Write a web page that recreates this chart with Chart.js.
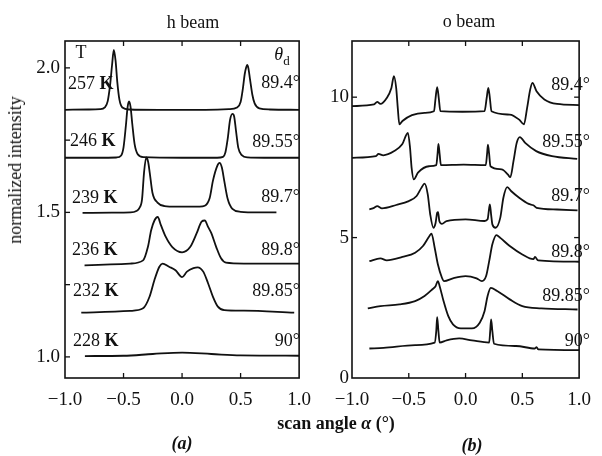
<!DOCTYPE html>
<html>
<head>
<meta charset="utf-8">
<script src="https://cdn.jsdelivr.net/npm/chart.js@4.4.0/dist/chart.umd.min.js"></script>
<style>
  body { margin: 0; background: #fff; }
  #wrap { position: relative; width: 602px; height: 456px; font-family: 'Liberation Serif', serif; color: #111; }
  canvas { position: absolute; top: 0; }
  .t { position: absolute; font-size: 18px; line-height: 1; white-space: nowrap; }
  .c { transform: translate(-50%, -50%); }
  .l { transform: translate(0, -50%); }
  .r { transform: translate(-100%, -50%); }
</style>
</head>
<body>
<div id="wrap">
  <canvas id="chartA" width="322" height="456" style="left:0"></canvas>
  <canvas id="chartB" width="280" height="456" style="left:322px"></canvas>
</div>
<script>
// ---- h beam (panel a): scan angle vs normalized intensity ----
const hAlpha257 = [-1.0,-0.8,-0.7,-0.66,-0.635,-0.615,-0.598,-0.583,-0.568,-0.553,-0.535,-0.51,-0.45,-0.2,0.0,0.2,0.4,0.47,0.5,0.52,0.535,0.548,0.556,0.566,0.58,0.6,0.62,0.66,0.75,1.0];
const hInt257   = [1.855,1.856,1.857,1.863,1.885,1.94,2.01,2.062,2.025,1.95,1.89,1.863,1.856,1.855,1.855,1.855,1.857,1.863,1.882,1.93,1.978,2.002,2.01,2.0,1.962,1.908,1.877,1.86,1.856,1.855];
const hAlpha246 = [-1.0,-0.7,-0.56,-0.52,-0.5,-0.48,-0.465,-0.453,-0.44,-0.425,-0.405,-0.38,-0.33,0,0.3,0.35,0.37,0.39,0.41,0.43,0.445,0.46,0.48,0.51,0.56,0.7,1.0];
const hInt246   = [1.689,1.689,1.69,1.697,1.725,1.8,1.865,1.884,1.865,1.805,1.735,1.702,1.691,1.689,1.689,1.692,1.707,1.755,1.82,1.841,1.832,1.785,1.724,1.698,1.69,1.689,1.689];
const hAlpha239 = [-0.85,-0.6,-0.44,-0.39,-0.365,-0.342,-0.325,-0.306,-0.29,-0.276,-0.253,-0.21,-0.15,-0.05,0.05,0.15,0.194,0.236,0.264,0.3,0.32,0.34,0.36,0.39,0.43,0.5,0.65,0.806];
const hInt239   = [1.498,1.499,1.5,1.505,1.515,1.545,1.637,1.69,1.675,1.637,1.568,1.534,1.522,1.52,1.52,1.52,1.523,1.55,1.61,1.66,1.671,1.655,1.61,1.546,1.512,1.502,1.5,1.5];
const hAlpha236 = [-0.833,-0.444,-0.333,-0.292,-0.264,-0.236,-0.208,-0.18,-0.139,-0.083,0,0.069,0.125,0.167,0.194,0.222,0.25,0.292,0.333,0.375,0.528,1.0];
const hInt236   = [1.317,1.323,1.334,1.38,1.438,1.472,1.484,1.455,1.415,1.38,1.362,1.38,1.428,1.468,1.472,1.45,1.428,1.38,1.341,1.326,1.323,1.323];
const hAlpha232 = [-0.861,-0.444,-0.333,-0.278,-0.236,-0.194,-0.167,-0.111,-0.056,0,0.042,0.097,0.133,0.181,0.222,0.264,0.306,0.361,0.528,0.958];
const hInt232   = [1.153,1.159,1.168,1.208,1.266,1.312,1.323,1.312,1.3,1.276,1.295,1.307,1.31,1.295,1.255,1.208,1.174,1.162,1.16,1.153];
const hAlpha228 = [-0.83,-0.5,-0.25,0,0.25,0.5,1.0];
const hInt228   = [1.003,1.004,1.01,1.015,1.01,1.005,1.004];

// ---- o beam (panel b) ----
const oAlpha894  = [-1,-0.806,-0.778,-0.75,-0.694,-0.653,-0.631,-0.611,-0.597,-0.583,-0.556,-0.472,-0.361,-0.278,-0.264,-0.25,-0.236,-0.222,-0.028,0.167,0.186,0.2,0.214,0.228,0.389,0.472,0.514,0.542,0.569,0.589,0.625,0.694,0.806,1.0];
const oInt894    = [9.68,9.74,9.83,9.76,9.97,10.33,10.75,10.33,9.62,9.03,9.15,9.36,9.44,9.5,9.97,10.36,9.97,9.5,9.48,9.5,9.97,10.33,9.97,9.5,9.38,9.2,9.03,9.62,10.27,10.51,10.21,9.92,9.76,9.72];
const oAlpha8955 = [-1,-0.789,-0.767,-0.725,-0.628,-0.558,-0.508,-0.489,-0.475,-0.456,-0.419,-0.322,-0.258,-0.247,-0.239,-0.228,-0.217,-0.017,0.178,0.189,0.197,0.208,0.219,0.317,0.372,0.394,0.422,0.45,0.478,0.525,0.622,0.761,0.983];
const oInt8955   = [7.84,7.9,7.98,7.93,8.08,8.32,8.73,8.2,7.48,7.07,7.31,7.54,7.58,7.96,8.34,7.96,7.58,7.6,7.58,7.96,8.31,7.96,7.54,7.43,7.25,7.15,7.72,8.37,8.58,8.37,8.08,7.9,7.8];
const oAlpha897  = [-0.847,-0.806,-0.778,-0.736,-0.611,-0.5,-0.431,-0.389,-0.361,-0.333,-0.311,-0.283,-0.264,-0.25,-0.242,-0.231,-0.208,-0.167,0,0.167,0.194,0.208,0.214,0.225,0.236,0.264,0.306,0.333,0.367,0.403,0.472,0.556,0.597,0.625,0.806,0.986];
const oInt897    = [6.0,6.06,6.12,6.04,6.16,6.3,6.48,6.77,6.92,6.54,5.82,5.35,5.52,5.88,5.91,5.59,5.49,5.59,5.65,5.59,5.65,6.06,6.18,5.82,5.47,5.35,5.71,6.42,6.8,6.65,6.42,6.2,6.15,6.06,6.0,5.97];
const oAlpha898  = [-0.847,-0.75,-0.694,-0.556,-0.444,-0.375,-0.319,-0.3,-0.272,-0.244,-0.208,-0.189,-0.111,0,0.097,0.144,0.181,0.208,0.236,0.272,0.306,0.389,0.5,0.597,0.611,0.639,1.0];
const oInt898    = [4.16,4.26,4.19,4.31,4.46,4.7,5.05,5.14,4.64,4.05,3.57,3.45,3.55,3.63,3.55,3.45,3.63,4.16,4.76,5.09,4.99,4.7,4.4,4.23,4.31,4.19,4.14];
const oAlpha8985 = [-0.861,-0.75,-0.583,-0.444,-0.361,-0.292,-0.264,-0.244,-0.228,-0.194,-0.153,-0.111,-0.042,0.056,0.125,0.167,0.194,0.222,0.278,0.389,0.5,0.667,0.986];
const oInt8985   = [2.48,2.56,2.62,2.74,2.92,3.16,3.27,3.45,3.27,2.74,2.21,1.91,1.77,1.77,1.97,2.38,2.92,3.21,3.1,2.8,2.56,2.48,2.44];
const oAlpha90   = [-0.847,-0.722,-0.444,-0.272,-0.258,-0.25,-0.239,-0.228,-0.167,-0.056,0.056,0.208,0.217,0.225,0.236,0.25,0.444,0.611,0.625,0.639,1.0];
const oInt90     = [1.05,1.07,1.17,1.26,1.67,2.17,1.67,1.26,1.34,1.41,1.34,1.26,1.67,2.09,1.67,1.22,1.14,1.05,1.1,1.02,0.99];

// labels
const temps  = ['257', '246', '239', '236', '232', '228'];
const angles = ['89.4°', '89.55°', '89.7°', '89.8°', '89.85°', '90°'];

const pts = (a, v) => a.map((x, i) => ({x: x, y: v[i]}));
const fmtX = v => (v < 0 ? '\u2212' : '') + Math.abs(v).toFixed(1);

Chart.defaults.font.family = "'Liberation Serif', serif";
Chart.defaults.font.size = 19;
Chart.defaults.color = '#111';

// box round the plot area plus inward tick marks
const frame = {
  id: 'frame',
  afterDraw(chart, args, opts) {
    const {ctx, chartArea: a, scales} = chart;
    const len = 5;
    const line = (x1, y1, x2, y2) => { ctx.beginPath(); ctx.moveTo(x1, y1); ctx.lineTo(x2, y2); ctx.stroke(); };
    ctx.save();
    ctx.strokeStyle = '#111';
    ctx.lineWidth = 1.6;
    ctx.strokeRect(a.left, a.top, a.right - a.left, a.bottom - a.top);
    ctx.lineWidth = 1.3;
    scales.x.ticks.forEach(t => {
      const px = scales.x.getPixelForValue(t.value);
      if (px <= a.left + 1 || px >= a.right - 1) return;
      line(px, a.bottom, px, a.bottom - len);
      line(px, a.top, px, a.top + len);
    });
    scales.y.ticks.forEach(t => {
      const py = scales.y.getPixelForValue(t.value);
      if (py <= a.top + 1 || py >= a.bottom - 1) return;
      line(a.left, py, a.left + len, py);
      if (opts.rightTicks) line(a.right, py, a.right - len, py);
    });
    ctx.restore();
  }
};

function lineSet(a, v) {
  return {
    data: pts(a, v),
    borderColor: '#111',
    borderWidth: 1.8,
    pointRadius: 0,
    fill: false,
    cubicInterpolationMode: 'monotone'
  };
}

function xScale() {
  return {
    type: 'linear', min: -1, max: 1,
    ticks: {stepSize: 0.5, padding: 11, maxRotation: 0, autoSkip: false, callback: fmtX},
    grid: {display: false, drawTicks: false},
    border: {display: false},
    afterFit: s => { s.height = 78; }
  };
}

new Chart(document.getElementById('chartA'), {
  type: 'line',
  data: {
    datasets: [
      lineSet(hAlpha257, hInt257), lineSet(hAlpha246, hInt246), lineSet(hAlpha239, hInt239),
      lineSet(hAlpha236, hInt236), lineSet(hAlpha232, hInt232), lineSet(hAlpha228, hInt228)
    ]
  },
  options: {
    responsive: false,
    animation: false,
    layout: {padding: {top: 41, right: 18, left: 0, bottom: 0}},
    plugins: {legend: {display: false}, tooltip: {enabled: false}, frame: {rightTicks: false}},
    scales: {
      x: xScale(),
      y: {
        type: 'linear', min: 0.927, max: 2.093,
        ticks: {stepSize: 0.25, includeBounds: false, padding: 5,
                callback: v => Math.abs(v * 2 - Math.round(v * 2)) < 1e-6 ? v.toFixed(1) : ''},
        grid: {display: false, drawTicks: false},
        border: {display: false},
        afterFit: s => { s.width = 65; }
      }
    }
  },
  plugins: [frame]
});

new Chart(document.getElementById('chartB'), {
  type: 'line',
  data: {
    datasets: [
      lineSet(oAlpha894, oInt894), lineSet(oAlpha8955, oInt8955), lineSet(oAlpha897, oInt897),
      lineSet(oAlpha898, oInt898), lineSet(oAlpha8985, oInt8985), lineSet(oAlpha90, oInt90)
    ]
  },
  options: {
    responsive: false,
    animation: false,
    layout: {padding: {top: 41, right: 10, left: 0, bottom: 0}},
    plugins: {legend: {display: false}, tooltip: {enabled: false}, frame: {rightTicks: true}},
    scales: {
      x: xScale(),
      y: {
        type: 'linear', min: 0, max: 12,
        ticks: {stepSize: 5, includeBounds: false, padding: 3},
        grid: {display: false, drawTicks: false},
        border: {display: false},
        afterFit: s => { s.width = 30; }
      }
    }
  },
  plugins: [frame]
});

// text labels
const wrap = document.getElementById('wrap');
function addText(html, x, y, cls, extra) {
  const d = document.createElement('div');
  d.className = 't ' + cls;
  d.style.left = x + 'px';
  d.style.top = y + 'px';
  if (extra) Object.assign(d.style, extra);
  d.innerHTML = html;
  wrap.appendChild(d);
}
addText('h beam', 193, 22, 'c');
addText('o beam', 469, 21, 'c');
addText('T', 81, 52, 'c');
addText('<i>θ</i><sub style="font-size:13px">d</sub>', 282, 56, 'c');
addText('normalized intensity', 15, 170, 'c', {transform: 'translate(-50%,-50%) rotate(-90deg)'});
addText('<b>scan angle <i>α</i> (°)</b>', 336, 423, 'c');
addText('<b><i>(a)</i></b>', 182, 443, 'c');
addText('<b><i>(b)</i></b>', 472, 445, 'c');

const tempY  = [83, 140, 197, 249, 290, 340];
const tempX  = [68, 70, 72, 72, 73, 73];
const angAY  = [82, 141, 196, 249, 290, 340];
const angBY  = [84, 141, 195, 251, 295, 340];
temps.forEach((t, i) => addText(t + ' <b>K</b>', tempX[i], tempY[i], 'l'));
angles.forEach((t, i) => {
  addText(t, 300, angAY[i], 'r');
  addText(t, 590, angBY[i], 'r');
});
</script>
</body>
</html>
